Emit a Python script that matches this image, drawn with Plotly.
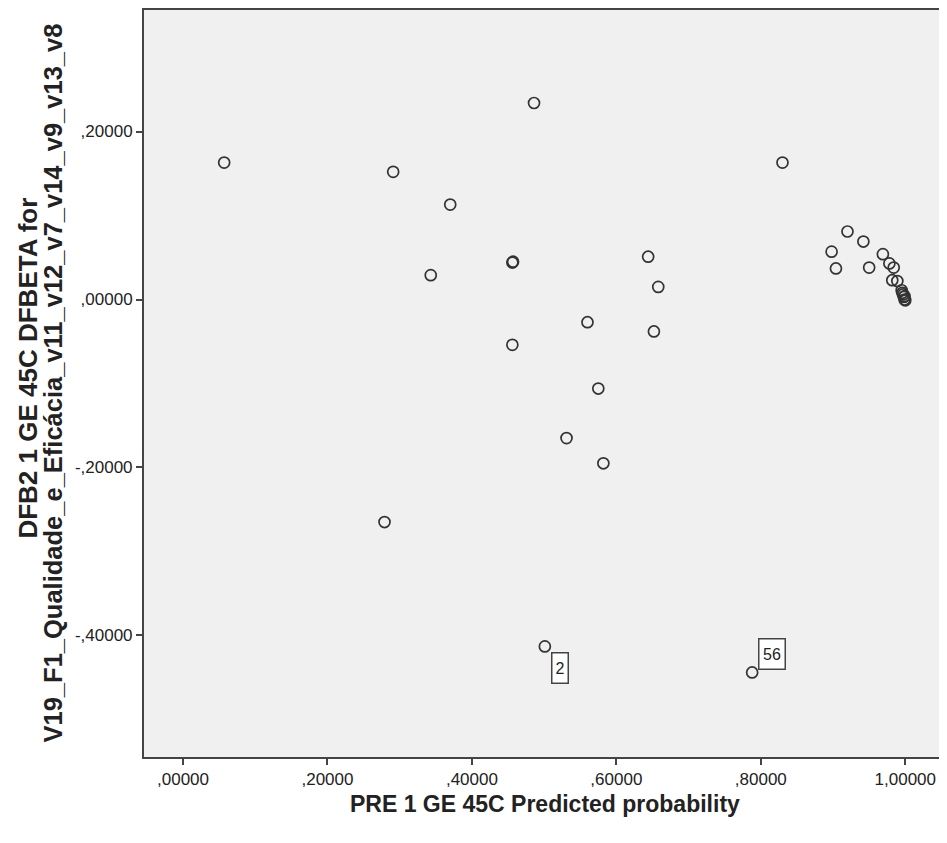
import plotly.graph_objects as go

# Predicted probability (x) and DFBETA (y) for each case
pred_prob = [0.057, 0.291, 0.486, 0.370, 0.343, 0.456, 0.457, 0.456, 0.644, 0.658,
             0.560, 0.652, 0.575, 0.531, 0.582, 0.279, 0.501, 0.788, 0.830,
             0.898, 0.904, 0.920, 0.942, 0.950, 0.969, 0.978, 0.984, 0.982, 0.989,
             0.995, 0.997, 0.998, 0.999, 1.000, 0.999, 0.996]
dfbeta = [0.163, 0.152, 0.234, 0.113, 0.029, 0.044, 0.045, -0.054, 0.051, 0.015,
          -0.027, -0.038, -0.106, -0.165, -0.195, -0.265, -0.413, -0.444, 0.163,
          0.057, 0.037, 0.081, 0.069, 0.038, 0.054, 0.043, 0.038, 0.023, 0.022,
          0.011, 0.006, 0.003, 0.000, -0.001, 0.004, 0.008]

# labelled cases: case id and index into the arrays
label_text = ["2", "56"]
label_index = [16, 17]

x_tickvals = [0.0, 0.2, 0.4, 0.6, 0.8, 1.0]
x_ticktext = [",00000", ",20000", ",40000", ",60000", ",80000", "1,00000"]
y_tickvals = [-0.4, -0.2, 0.0, 0.2]
y_ticktext = ["-,40000", "-,20000", ",00000", ",20000"]

x_title = "PRE 1 GE 45C Predicted probability"
y_title_lines = ["DFB2 1 GE 45C DFBETA for",
                 "V19_F1_Qualidade_e_Eficácia_v11_v12_v7_v14_v9_v13_v8"]

FONT = "Liberation Sans, Arial, sans-serif"

fig = go.Figure()
fig.add_trace(go.Scatter(
    x=pred_prob, y=dfbeta, mode="markers",
    marker=dict(symbol="circle-open", size=11, color="#333333",
                line=dict(width=1.7, color="#333333")),
    showlegend=False,
))

shifts = {"2": (15.5, -22, 15, 29), "56": (19.5, 18.5, 25, 29)}
for t, i in zip(label_text, label_index):
    xs, ys, w, h = shifts[t]
    fig.add_annotation(
        x=pred_prob[i], y=dfbeta[i], text=t, showarrow=False,
        xshift=xs, yshift=ys, width=w, height=h,
        font=dict(family=FONT, size=16, color="#222222"),
        bgcolor="white", bordercolor="#444444", borderwidth=1.5, borderpad=0,
    )

# y-axis title, two rotated lines
for txt, xs, ypos, size in zip(y_title_lines, [-116, -92], [0.52, 0.5], [26, 25.5]):
    fig.add_annotation(
        xref="paper", yref="paper", x=0, y=ypos, xshift=xs,
        text=txt, showarrow=False, textangle=-90,
        xanchor="center", yanchor="middle",
        font=dict(family=FONT, size=size, color="#222222", weight="bold"),
    )

# x-axis title
fig.add_annotation(
    xref="paper", yref="paper", x=0.5, y=0, yshift=-47,
    text=x_title, showarrow=False, xanchor="center", yanchor="middle",
    font=dict(family=FONT, size=23, color="#222222", weight="bold"),
)

axis_common = dict(
    showgrid=False, zeroline=False, showline=True, mirror=True,
    linecolor="#444444", linewidth=2,
    ticks="outside", ticklen=6, tickwidth=2, tickcolor="#444444",
    tickfont=dict(family=FONT, size=17, color="#222222"),
)

# page body has an 8px margin: compensate so the plot frame lands where it should
fig.update_layout(
    width=939, height=835,
    margin=dict(l=136, r=1, t=0, b=86),
    paper_bgcolor="white", plot_bgcolor="#f0f0f0",
    xaxis=dict(range=[-0.054, 1.055], tickvals=x_tickvals, ticktext=x_ticktext,
               **axis_common),
    yaxis=dict(range=[-0.5447, 0.3447], tickvals=y_tickvals, ticktext=y_ticktext,
               **axis_common),
)

fig.write_html("out.html")
